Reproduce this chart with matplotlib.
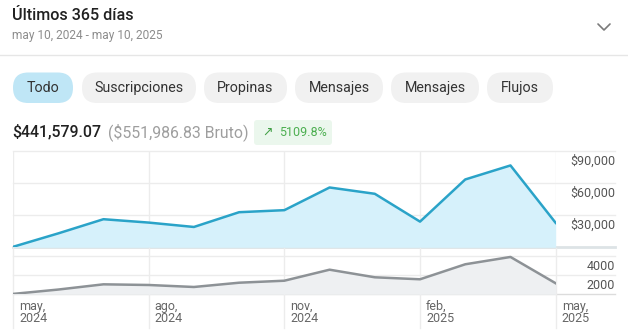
import matplotlib
matplotlib.use("Agg")
import matplotlib.pyplot as plt
import matplotlib.transforms as mtransforms
from matplotlib.patches import FancyBboxPatch

plt.rcParams['font.family'] = ['Roboto', 'DejaVu Sans']

# ---- data ----
months = ["may 2024", "jun 2024", "jul 2024", "ago 2024", "sep 2024", "oct 2024", "nov 2024",
          "dic 2024", "ene 2025", "feb 2025", "mar 2025", "abr 2025", "may 2025"]
earnings = [440, 13000, 26250, 23100, 19000, 32800, 34700, 55900, 50000, 24000, 63400, 76500, 22800]
counts = [40, 500, 1050, 980, 770, 1220, 1430, 2590, 1790, 1580, 3160, 3930, 1160]
x_tick_pos = [0, 3, 6, 9, 12]
x_tick_labels = ["may,\n2024", "ago,\n2024", "nov,\n2024", "feb,\n2025", "may,\n2025"]
top_ticks = [30000, 60000, 90000]
top_tick_labels = ["$30,000", "$60,000", "$90,000"]
bot_ticks = [2000, 4000]
bot_tick_labels = ["2000", "4000"]
tabs = ["Todo", "Suscripciones", "Propinas", "Mensajes", "Mensajes", "Flujos"]
title = "Últimos 365 días"
subtitle = "may 10, 2024 - may 10, 2025"
amount = "$441,579.07"
gross = "($551,986.83 Bruto)"
growth = "5109.8%"

W, H = 628, 335
fig = plt.figure(figsize=(W / 100, H / 100), dpi=100)
fig.patch.set_facecolor("white")

bg = fig.add_axes([0, 0, 1, 1])
bg.set_xlim(0, W)
bg.set_ylim(H, 0)
bg.axis("off")


def rect(l, t, r, b):
    return [l / W, 1 - b / H, (r - l) / W, (b - t) / H]


# ---- header ----
bg.text(12, 16, title, fontsize=11.6, color="#212121", va="center", ha="left", fontweight="medium")
bg.text(12, 35, subtitle, fontsize=8.6, color="#8c8c8c", va="center", ha="left")
bg.plot([598, 604, 610], [24, 30, 24], color="#7a7a7a", lw=1.2, solid_capstyle="round")
bg.plot([0, W], [55, 55], color="#e6e6e6", lw=1)

pill_x = [(13, 73), (82, 196), (204, 287), (295, 383), (391, 479), (487, 553)]
for i, (lab, (x0, x1)) in enumerate(zip(tabs, pill_x)):
    fc = "#bfe6f6" if i == 0 else "#f1f1f1"
    p = FancyBboxPatch((x0, 72.5), x1 - x0, 30.5,
                       boxstyle="round,pad=0,rounding_size=15.2",
                       fc=fc, ec="none", mutation_aspect=1)
    bg.add_patch(p)
    bg.text((x0 + x1) / 2, 88, lab, fontsize=10.3, color="#333333", ha="center", va="center")

bg.text(12, 132, amount, fontsize=11.4, color="#212121", ha="left", va="center", fontweight="medium")
bg.text(108, 132, gross, fontsize=11.4, color="#9e9e9e", ha="left", va="center")
badge = FancyBboxPatch((254, 120), 78, 25, boxstyle="round,pad=0,rounding_size=3",
                       fc="#ebf7ed", ec="none")
bg.add_patch(badge)
bg.text(267, 132.5, "↗", fontsize=9, color="#43a047", ha="center", va="center",
        family=["DejaVu Sans"])
bg.text(279, 132.5, growth, fontsize=9, color="#4caf50", ha="left", va="center")

# ---- charts ----
L, R = 13, 555.7
ax1 = fig.add_axes(rect(L, 151, R, 247.3))
ax2 = fig.add_axes(rect(L, 248, R, 294.3))
ax1.set_xlim(0, 12)
ax2.set_xlim(0, 12)
ax1.set_ylim(0, 90000)
ax2.set_ylim(0, 2000 * (294.3 - 248) / 19)

grid_c = "#ececec"
ext = (615 - L) / (R - L)
xs = list(range(len(months)))

for ax in (ax1, ax2):
    ax.set_facecolor("none")
    for s in ax.spines.values():
        s.set_visible(False)
    ax.set_xticks([])
    ax.set_yticks([])

# horizontal gridlines
for v in top_ticks:
    ax1.axhline(v, xmin=0, xmax=ext, color=grid_c, lw=1, clip_on=False, zorder=0)
for v in bot_ticks:
    ax2.axhline(v, xmin=0, xmax=ext, color=grid_c, lw=1, clip_on=False, zorder=0)
ax2.axhline(0, xmin=0, xmax=ext, color="#dcdcdc", lw=1, clip_on=False, zorder=0)
ax1.axhline(0, xmin=0, xmax=ext, color="#dde3e6", lw=2, clip_on=False, zorder=1)

# vertical gridlines
bot_ext = -(328 - 294.3) / (294.3 - 248)
for xv in x_tick_pos:
    ax1.axvline(xv, color=grid_c, lw=1, zorder=0)
    ax2.axvline(xv, ymin=bot_ext, ymax=1, color=grid_c, lw=1, clip_on=False, zorder=0)

ax1.fill_between(xs, earnings, 0, color="#d6f1fb", zorder=2, lw=0)
ax1.plot(xs, earnings, color="#2aa3c8", lw=1.8, zorder=3, solid_joinstyle="round")
ax2.fill_between(xs, counts, 0, color="#eef0f2", zorder=2, lw=0)
ax2.plot(xs, counts, color="#8d9296", lw=1.8, zorder=3, solid_joinstyle="round")

# y labels (right side, below gridlines)
for ax, ticks, labs in ((ax1, top_ticks, top_tick_labels), (ax2, bot_ticks, bot_tick_labels)):
    tr = mtransforms.blended_transform_factory(fig.transFigure, ax.transData)
    off = mtransforms.ScaledTranslation(0, -10 / 100, fig.dpi_scale_trans)
    for v, lab in zip(ticks, labs):
        ax.text(615 / W, v, lab, transform=tr + off, ha="right", va="center",
                fontsize=9, color="#555555", clip_on=False)

# x labels
trx = mtransforms.blended_transform_factory(ax2.transData, fig.transFigure)
offx = mtransforms.ScaledTranslation(6 / 100, 0, fig.dpi_scale_trans)
for xv, lab in zip(x_tick_pos, x_tick_labels):
    ax2.text(xv, 1 - 300 / H, lab, transform=trx + offx, ha="left", va="top",
             fontsize=9, color="#666666", linespacing=0.95, clip_on=False)

fig.savefig("out.png", dpi=100, facecolor="white")
